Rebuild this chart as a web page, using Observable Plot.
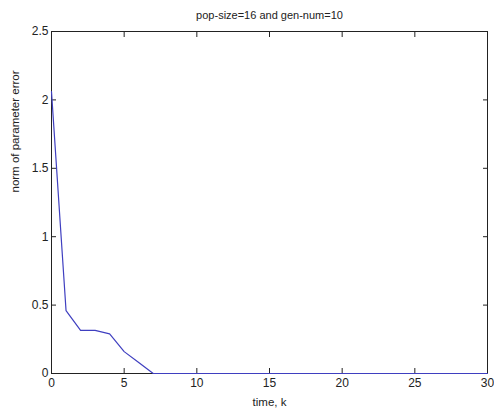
<!DOCTYPE html>
<html>
<head>
<meta charset="utf-8">
<script src="https://cdn.jsdelivr.net/npm/d3@7"></script>
<script src="https://cdn.jsdelivr.net/npm/@observablehq/plot@0.6"></script>
<style>
  html, body { margin: 0; padding: 0; background: #fff; }
  svg { display: block; }
</style>
</head>
<body>
<div id="chart"></div>
<script>
const titleText = "pop-size=16 and gen-num=10";
const xLabel = "time, k";
const yLabel = "norm of parameter error";
const timeSteps = [0,1,2,3,4,5,6,7,8,9,10,11,12,13,14,15,16,17,18,19,20,21,22,23,24,25,26,27,28,29,30];
const errorNorm = [2.06,0.46,0.315,0.315,0.29,0.16,0.08,0,0,0,0,0,0,0,0,0,0,0,0,0,0,0,0,0,0,0,0,0,0,0,0];
const xTicks = [0,5,10,15,20,25,30];
const yTicks = [0,0.5,1,1.5,2,2.5];

const data = timeSteps.map((t, i) => ({t, e: errorNorm[i]}));

const W = 494, H = 415;
const mL = 51, mR = 7, mT = 31, mB = 42;
const tickLen = 5;
const font = "Liberation Sans, Arial, Helvetica, sans-serif";
const fmt = d => String(d);
const noLabel = () => "";

const chart = Plot.plot({
  width: W,
  height: H,
  marginLeft: mL,
  marginRight: mR,
  marginTop: mT,
  marginBottom: mB,
  style: {fontFamily: font, fontSize: "11.5px", color: "#222", background: "#fff"},
  x: {domain: [0, 30], ticks: xTicks},
  y: {domain: [0, 2.5], ticks: yTicks},
  marks: [
    Plot.frame({stroke: "#222", strokeWidth: 1}),
    // inward ticks on all four sides
    Plot.axisX({anchor: "bottom", ticks: xTicks, tickSize: -tickLen, tickFormat: noLabel, label: null, stroke: "#222"}),
    Plot.axisX({anchor: "top", ticks: xTicks, tickSize: -tickLen, tickFormat: noLabel, label: null, stroke: "#222"}),
    Plot.axisY({anchor: "left", ticks: yTicks, tickSize: -tickLen, tickFormat: noLabel, label: null, stroke: "#222"}),
    Plot.axisY({anchor: "right", ticks: yTicks, tickSize: -tickLen, tickFormat: noLabel, label: null, stroke: "#222"}),
    Plot.line(data, {x: "t", y: "e", stroke: "#3f3fc0", strokeWidth: 1.2}),
    Plot.axisX({ticks: xTicks, tickSize: 0, tickPadding: 5, label: null, fontSize: 12, tickFormat: fmt}),
    Plot.axisY({ticks: yTicks, tickSize: 0, tickPadding: 3, label: null, fontSize: 12, tickFormat: fmt}),
    Plot.text([xLabel], {frameAnchor: "bottom", dy: 32, fontSize: 11.5, fill: "#222"}),
    Plot.text([yLabel], {frameAnchor: "left", dx: -36, dy: -10, rotate: -90, fontSize: 11.5, fill: "#222"}),
    Plot.text([titleText], {frameAnchor: "top", dy: -20, fontSize: 11, fill: "#222"})
  ]
});
document.getElementById("chart").appendChild(chart);
</script>
</body>
</html>
